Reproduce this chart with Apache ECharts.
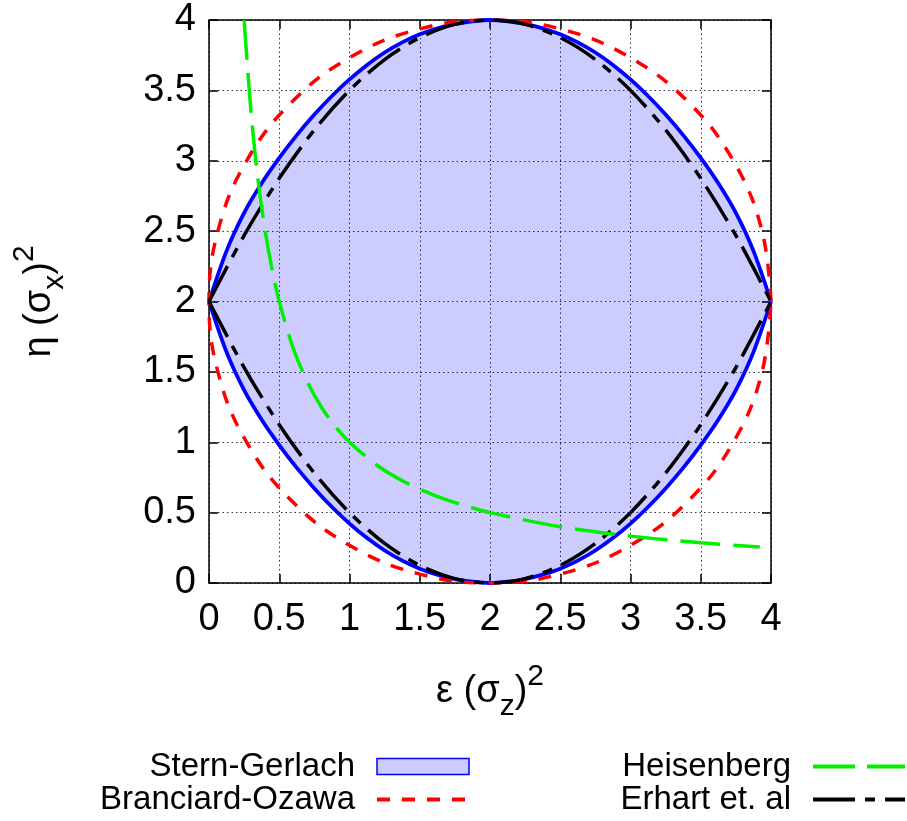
<!DOCTYPE html>
<html>
<head>
<meta charset="utf-8">
<script src="https://cdn.jsdelivr.net/npm/echarts@6/dist/echarts.min.js"></script>
<style>html,body{margin:0;padding:0;background:#fff}#c{width:907px;height:821px}</style>
</head>
<body>
<div id="c"></div>
<script>
// ---- data ----
const epsFine = [0,0.125,0.25,0.375,0.5,0.625,0.75,0.875,1,1.125,1.25,1.375,1.5,1.625,1.75,1.875,2,
                 2.125,2.25,2.375,2.5,2.625,2.75,2.875,3,3.125,3.25,3.375,3.5,3.625,3.75,3.875,4];
const sgLower = [2.0,1.64,1.37,1.16,0.98,0.818,0.672,0.54,0.422,0.319,0.231,0.159,0.102,0.059,0.028,0.009,0,
                 0.009,0.028,0.059,0.102,0.159,0.231,0.319,0.422,0.54,0.672,0.818,0.98,1.16,1.37,1.64,2.0];
const sgUpper = [2.0,2.36,2.63,2.84,3.02,3.182,3.328,3.46,3.578,3.681,3.769,3.841,3.898,3.941,3.972,3.991,4,
                 3.991,3.972,3.941,3.898,3.841,3.769,3.681,3.578,3.46,3.328,3.182,3.02,2.84,2.63,2.36,2.0];

const epsCoarse = [0,0.25,0.5,0.75,1,1.25,1.5,1.75,2,2.25,2.5,2.75,3,3.25,3.5,3.75,4];
const erLower = [2,1.531,1.125,0.781,0.5,0.281,0.125,0.031,0,0.031,0.125,0.281,0.5,0.781,1.125,1.531,2];
const erUpper = [2,2.469,2.875,3.219,3.5,3.719,3.875,3.969,4,3.969,3.875,3.719,3.5,3.219,2.875,2.469,2];

const boEps = [4,3.932,3.732,3.414,3.0,2.518,2,1.482,1.0,0.586,0.268,0.068,0,0.068,0.268,0.586,1.0,1.482,2,2.518,3.0,3.414,3.732,3.932,4];
const boEta = [2,2.518,3.0,3.414,3.732,3.932,4,3.932,3.732,3.414,3.0,2.518,2,1.482,1.0,0.586,0.268,0.068,0,0.068,0.268,0.586,1.0,1.482,2];

const heEps = [0.25,0.3,0.35,0.4,0.45,0.5,0.6,0.7,0.8,0.9,1.0,1.2,1.4,1.6,1.8,2.0,2.5,3.0,3.5,3.92];
const heEta = [4,3.333,2.857,2.5,2.222,2,1.667,1.429,1.25,1.111,1,0.833,0.714,0.625,0.556,0.5,0.4,0.333,0.286,0.255];

const ticks = [0,0.5,1,1.5,2,2.5,3,3.5,4];
const tickLabels = ['0','0.5','1','1.5','2','2.5','3','3.5','4'];

// ---- build ----
const FF = 'Liberation Sans, Arial, Helvetica, sans-serif';
const zip = (a, b) => a.map((v, i) => [v, b[i]]);
const FILL = 'rgba(0,0,255,0.2)';
const BLUE = '#0000ff', RED = '#ff0000', GREEN = '#00f000', BLACK = '#000000';

const chart = echarts.init(document.getElementById('c'), null, {renderer: 'canvas'});

function nameRich() {
  return {
    color: '#000', fontFamily: FF,
    rich: {
      m: {fontSize: 38, lineHeight: 60, fontFamily: FF, color: '#000'},
      sub: {fontSize: 30, lineHeight: 34, verticalAlign: 'bottom', fontFamily: FF, color: '#000'},
      sup: {fontSize: 30, lineHeight: 16, verticalAlign: 'top', fontFamily: FF, color: '#000'}
    }
  };
}

const axisCommon = {
  type: 'value', min: 0, max: 4, interval: 0.5,
  axisLine: {show: true, onZero: false, lineStyle: {color: '#000', width: 1.5}},
  axisTick: {show: true, inside: true, length: 9, lineStyle: {color: '#000', width: 1.5}},
  splitLine: {show: false}
};
const labelFmt = v => { const i = ticks.indexOf(v); return i >= 0 ? tickLabels[i] : ''; };

const legendCommon = {
  orient: 'vertical', align: 'right', top: 750, padding: 0,
  itemWidth: 92, itemHeight: 16, itemGap: 0, selectedMode: false,
  textStyle: {fontSize: 33, fontFamily: FF, color: '#000', lineHeight: 33, padding: [0, 17, 0, 0]}
};

const option = {
  animation: false,
  backgroundColor: '#fff',
  grid: {left: 209, right: 136, top: 20, bottom: 238, containLabel: false},
  xAxis: [
    Object.assign({}, axisCommon, {
      position: 'bottom',
      axisLabel: {fontSize: 38, color: '#000', fontFamily: FF, margin: 18, formatter: labelFmt},
      splitLine: {show: true, lineStyle: {color: '#333', width: 1, type: [1.5, 3]}},
      name: '{m|ε (σ}{sub|z}{m|)}{sup|2}', nameLocation: 'middle', nameGap: 79,
      nameTextStyle: nameRich()
    }),
    Object.assign({}, axisCommon, {position: 'top', axisLabel: {show: false}})
  ],
  yAxis: [
    Object.assign({}, axisCommon, {
      position: 'left',
      axisLabel: {fontSize: 38, color: '#000', fontFamily: FF, margin: 13, formatter: labelFmt},
      splitLine: {show: true, lineStyle: {color: '#333', width: 1, type: [1.5, 3]}},
      name: '{m|η (σ}{sub|x}{m|)}{sup|2}', nameLocation: 'middle', nameGap: 139, nameRotate: 90,
      nameTextStyle: nameRich()
    }),
    Object.assign({}, axisCommon, {position: 'right', axisLabel: {show: false}})
  ],
  legend: [
    Object.assign({}, legendCommon, {
      right: 436,
      data: [
        {name: 'Stern-Gerlach', icon: 'rect', itemStyle: {color: FILL, borderColor: BLUE, borderWidth: 1.5}},
        {name: 'Branciard-Ozawa', itemStyle: {opacity: 0}, lineStyle: {width: 4, color: RED, type: [13, 12]}}
      ]
    }),
    Object.assign({}, legendCommon, {
      right: 0,
      data: [
        {name: 'Heisenberg', itemStyle: {opacity: 0}, lineStyle: {width: 4, color: GREEN, type: [42, 12]}},
        {name: 'Erhart et. al', itemStyle: {opacity: 0}, lineStyle: {width: 4, color: BLACK, type: [42, 10, 10, 10]}}
      ]
    })
  ],
  series: [
    {
      name: 'Stern-Gerlach', type: 'custom', coordinateSystem: 'cartesian2d',
      data: zip(epsFine, sgUpper), z: 1, silent: true, clip: true,
      itemStyle: {color: FILL},
      renderItem: function (params, api) {
        if (params.dataIndex !== 0) return null;
        const pts = [];
        for (let i = 0; i < epsFine.length; i++) pts.push(api.coord([epsFine[i], sgUpper[i]]));
        for (let i = epsFine.length - 1; i >= 0; i--) pts.push(api.coord([epsFine[i], sgLower[i]]));
        return {type: 'polygon', shape: {points: pts}, style: {fill: FILL, stroke: null}};
      }
    },
    {
      name: 'SG lower', type: 'line', data: zip(epsFine, sgLower),
      smooth: 0.3, symbol: 'none', z: 2,
      lineStyle: {color: BLUE, width: 3.8}, itemStyle: {color: BLUE}
    },
    {
      name: 'SG upper', type: 'line', data: zip(epsFine, sgUpper),
      smooth: 0.3, symbol: 'none', z: 2,
      lineStyle: {color: BLUE, width: 3.8}, itemStyle: {color: BLUE}
    },
    {
      name: 'Branciard-Ozawa', type: 'line', data: zip(boEps, boEta),
      smooth: 0.4, symbol: 'none', z: 4,
      lineStyle: {color: RED, width: 3.5, type: [13, 12]}, itemStyle: {color: RED}
    },
    {
      name: 'Erhart et. al', type: 'line', data: zip(epsCoarse, erUpper),
      smooth: 0.3, symbol: 'none', z: 5,
      lineStyle: {color: BLACK, width: 3.5, type: [40, 10, 10, 10]}, itemStyle: {color: BLACK}
    },
    {
      name: 'Erhart et. al', type: 'line', data: zip(epsCoarse, erLower),
      smooth: 0.3, symbol: 'none', z: 5,
      lineStyle: {color: BLACK, width: 3.5, type: [40, 10, 10, 10]}, itemStyle: {color: BLACK}
    },
    {
      name: 'Heisenberg', type: 'line', data: zip(heEps, heEta),
      smooth: 0.3, symbol: 'none', z: 6,
      lineStyle: {color: GREEN, width: 3.5, type: [40, 13]}, itemStyle: {color: GREEN}
    }
  ]
};
chart.setOption(option);
</script>
</body>
</html>
